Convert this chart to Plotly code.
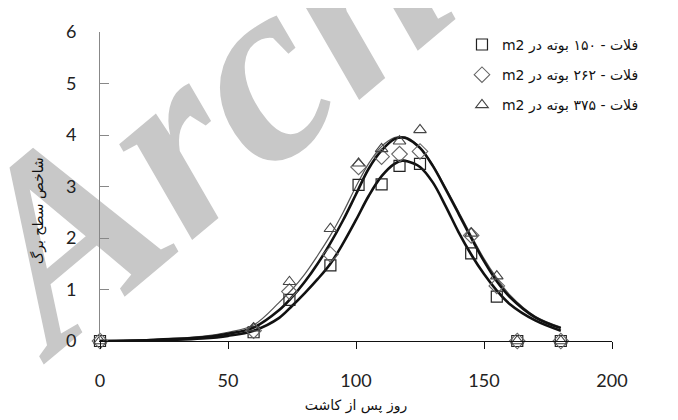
import plotly.graph_objects as go

# Observed data (days after planting, leaf area index)
days = [0, 60, 74, 90, 101, 110, 117, 125, 145, 155, 163, 180]
lai_150 = [0, 0.17, 0.80, 1.47, 3.03, 3.04, 3.40, 3.44, 1.70, 0.86, 0, 0]
lai_262 = [0, 0.20, 0.96, 1.68, 3.38, 3.58, 3.63, 3.68, 2.05, 1.07, 0, 0]
lai_375 = [0, 0.25, 1.15, 2.18, 3.45, 3.73, 3.88, 4.10, 2.09, 1.26, 0, 0]

# Fitted curves
curve_x = [0, 20, 40, 50, 60, 70, 75, 80, 85, 90, 95, 100, 105, 110, 115, 118, 120,
           125, 130, 135, 140, 145, 150, 155, 160, 170, 180]
curve_150 = [0, 0.01, 0.05, 0.10, 0.20, 0.45, 0.68, 0.93, 1.20, 1.50, 1.90, 2.35, 2.82,
             3.20, 3.44, 3.50, 3.49, 3.38, 3.08, 2.62, 2.12, 1.68, 1.30, 0.98, 0.72, 0.40, 0.20]
curve_262 = [0, 0.02, 0.07, 0.14, 0.26, 0.60, 0.85, 1.15, 1.50, 1.90, 2.35, 2.85, 3.35,
             3.70, 3.92, 3.95, 3.93, 3.75, 3.40, 2.95, 2.48, 2.00, 1.55, 1.16, 0.86, 0.46, 0.25]
curve_375 = [0, 0.03, 0.09, 0.17, 0.31, 0.75, 1.00, 1.30, 1.66, 2.05, 2.50, 3.00, 3.45,
             3.78, 3.95, 3.97, 3.95, 3.76, 3.42, 2.98, 2.52, 2.05, 1.60, 1.22, 0.90, 0.48, 0.27]

legend_names = ["m2 فلات - ۱۵۰ بوته در",
                "m2 فلات - ۲۶۲ بوته در",
                "m2 فلات - ۳۷۵ بوته در"]

x_ticks = [0, 50, 100, 150, 200]
y_ticks = [0, 1, 2, 3, 4, 5, 6]

fig = go.Figure()

fig.add_trace(go.Scatter(x=curve_x, y=curve_375, mode="lines", line=dict(color="#555555", width=1.2, shape="spline"),
                         showlegend=False, hoverinfo="skip", cliponaxis=False))
fig.add_trace(go.Scatter(x=curve_x, y=curve_262, mode="lines", line=dict(color="#111111", width=2.6, shape="spline"),
                         showlegend=False, hoverinfo="skip", cliponaxis=False))
fig.add_trace(go.Scatter(x=curve_x, y=curve_150, mode="lines", line=dict(color="#111111", width=2.6, shape="spline"),
                         showlegend=False, hoverinfo="skip", cliponaxis=False))

fig.add_trace(go.Scatter(x=days, y=lai_150, mode="markers", name=legend_names[0], legendgroup="a",
                         marker=dict(symbol="square-open", size=11, color="#222222", line=dict(width=1.2)),
                         cliponaxis=False))
fig.add_trace(go.Scatter(x=days, y=lai_262, mode="markers", name=legend_names[1], legendgroup="b",
                         marker=dict(symbol="diamond-open", size=12, color="#666666", line=dict(width=1.1)),
                         cliponaxis=False))
fig.add_trace(go.Scatter(x=days, y=lai_375, mode="markers", name=legend_names[2], legendgroup="c",
                         marker=dict(symbol="triangle-up-open", size=11, color="#444444", line=dict(width=1.1)),
                         cliponaxis=False))

# watermark, drawn below the data
fig.add_shape(type="rect", xref="paper", yref="paper", x0=0.375, x1=0.415, y0=1.10, y1=1.14,
              line=dict(width=0), fillcolor="rgba(0,0,0,0)", layer="below",
              label=dict(text="<b><i>Archive</i></b>", textangle=-40, textposition="middle center",
                         font=dict(family="Liberation Serif", size=262, color="#c8c8c8")))

fig.add_annotation(text="شاخص سطح برگ", xref="paper", yref="paper", x=-0.121, y=0.42,
                   xanchor="center", yanchor="middle",
                   textangle=-90, showarrow=False,
                   font=dict(family="DejaVu Sans", size=14, color="#111111"))

fig.update_layout(
    width=678, height=420,
    margin=dict(l=92, r=74, t=13, b=87),
    paper_bgcolor="white", plot_bgcolor="white",
    showlegend=True,
    legend=dict(x=0.707, y=1.01, xanchor="left", yanchor="top", bgcolor="rgba(0,0,0,0)",
                font=dict(family="DejaVu Sans", size=14, color="#111111"), tracegroupgap=9,
                itemwidth=30),
    xaxis=dict(range=[0, 200], tickvals=x_ticks, showgrid=False, zeroline=False,
               showline=True, linecolor="#111111", linewidth=1.2, ticks="outside", ticklen=7,
               tickcolor="#111111", tickfont=dict(family="Lato", size=18, color="#222222"),
               ticklabelstandoff=16,
               title=dict(text="روز پس از کاشت", font=dict(family="DejaVu Sans", size=14, color="#111111"),
                          standoff=10)),
    yaxis=dict(range=[0, 6], tickvals=y_ticks, showgrid=False, zeroline=False,
               showline=True, linecolor="#888888", linewidth=1, ticks="inside", ticklen=9,
               tickcolor="#888888", tickfont=dict(family="Lato", size=18, color="#222222"),
               ticklabelstandoff=19),
)

fig.write_html("out.html")
